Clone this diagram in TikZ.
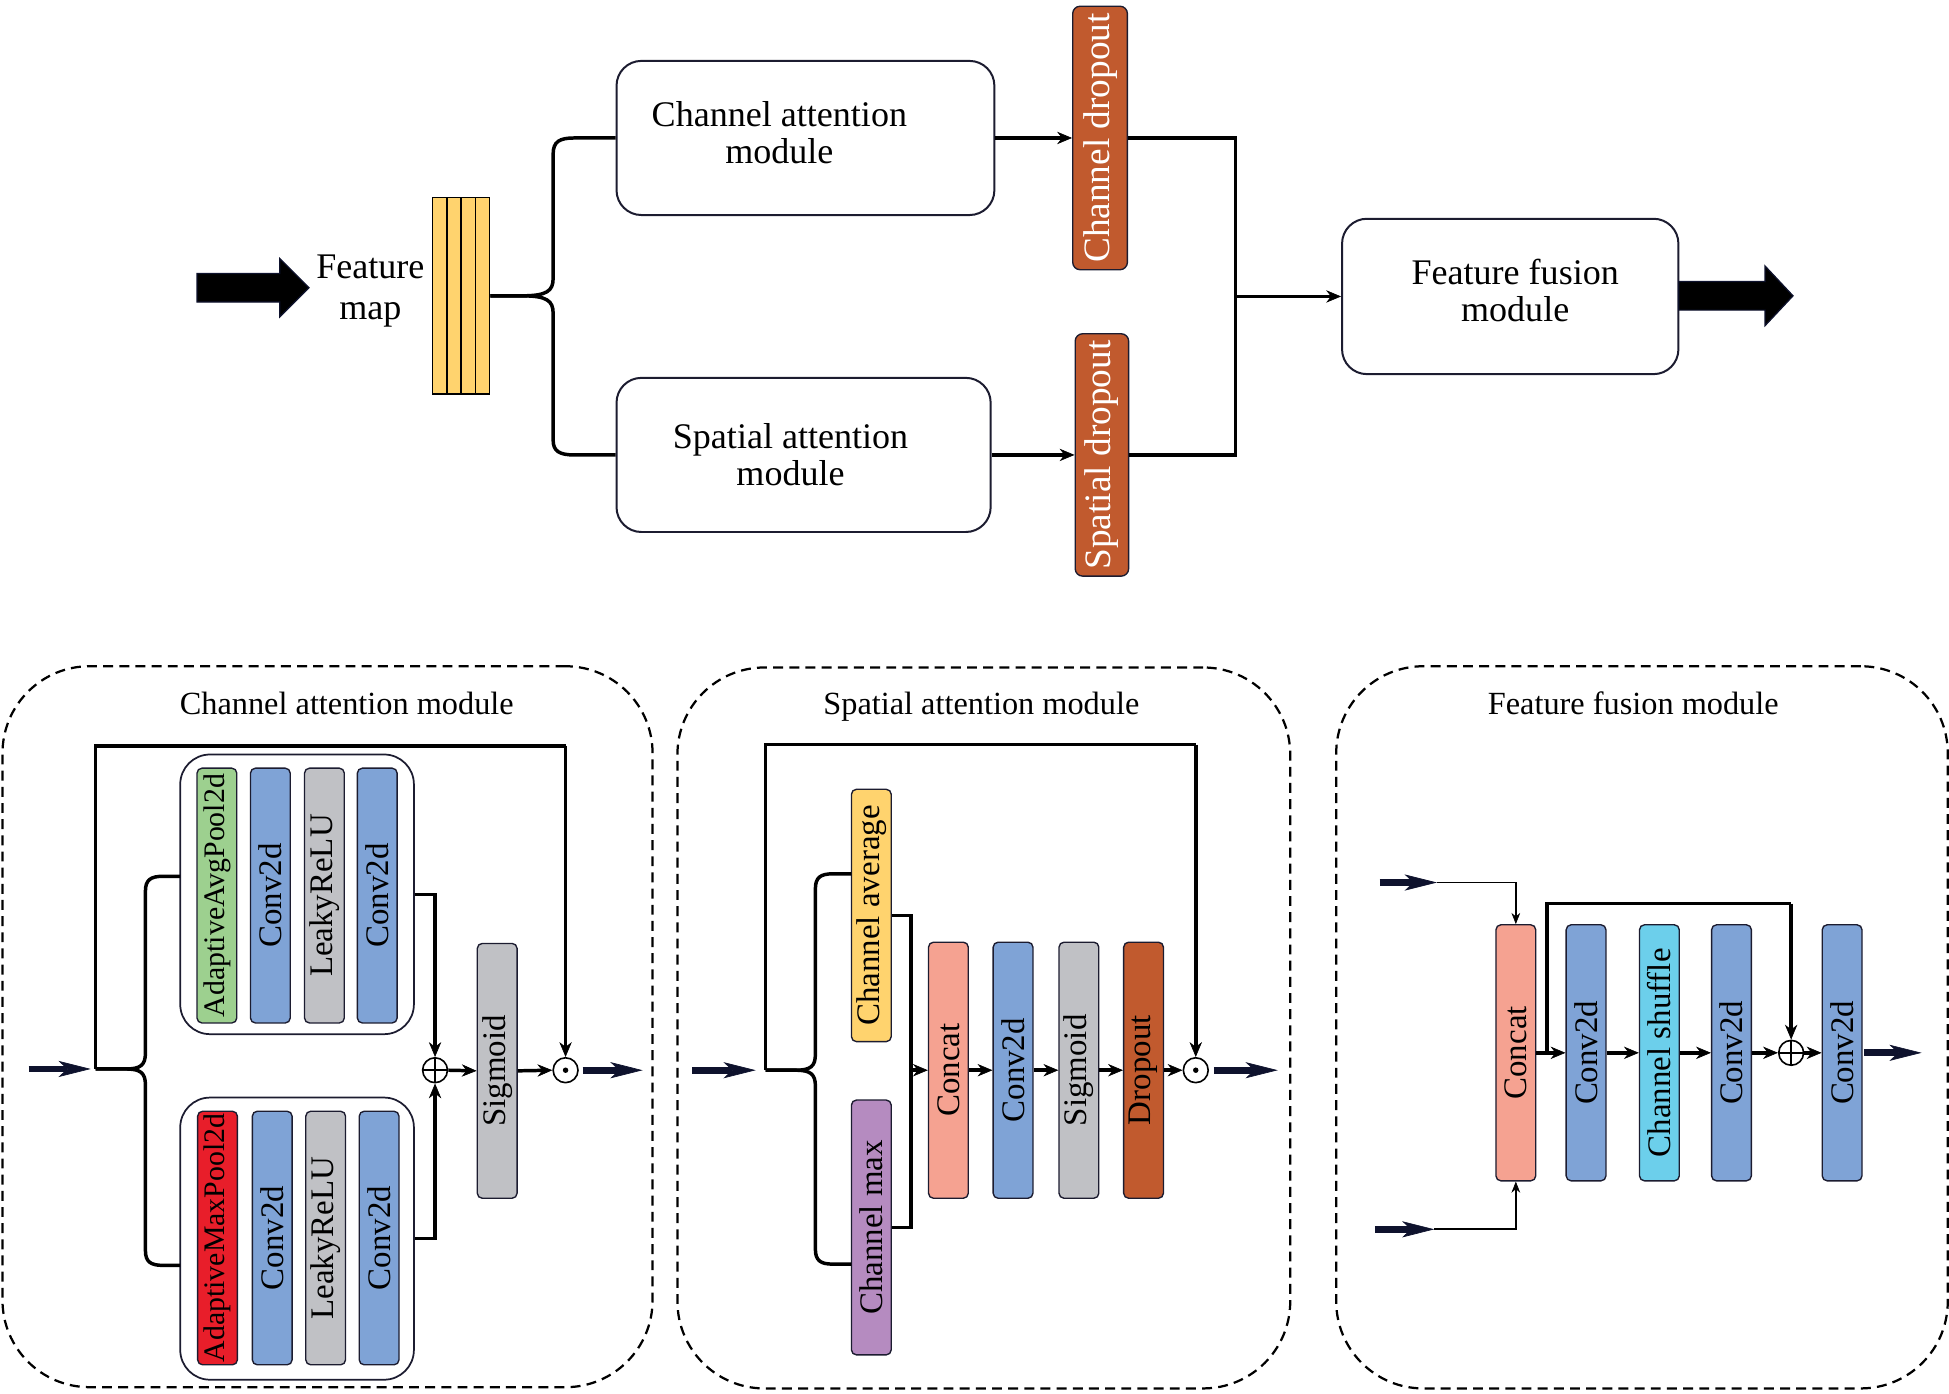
\documentclass[tikz,border=0pt]{standalone}
\usepackage{fontspec}
\setmainfont{Liberation Serif}
\usepackage{graphicx}
\usetikzlibrary{arrows.meta}
\definecolor{cyellow}{RGB}{255,211,110}
\definecolor{corange}{RGB}{193,90,46}
\definecolor{cgreen}{RGB}{157,208,143}
\definecolor{cblue}{RGB}{127,163,214}
\definecolor{cgray}{RGB}{192,193,197}
\definecolor{cred}{RGB}{232,30,42}
\definecolor{csalmon}{RGB}{245,162,145}
\definecolor{cpurple}{RGB}{181,139,192}
\definecolor{ccyan}{RGB}{108,207,235}
\definecolor{cborder}{RGB}{28,28,48}
\definecolor{cnavy}{RGB}{14,18,45}
\newcommand\fTop{\fontsize{29}{30}\selectfont}
\newcommand\fDrop{\fontsize{30}{30}\selectfont}
\newcommand\fTitle{\fontsize{26}{30}\selectfont}
\newcommand\fLab{\fontsize{26.5}{30}\selectfont}
\newcommand\fPool{\fontsize{24}{30}\selectfont}
\newcommand\vtext[1]{\rotatebox{90}{#1}}
\begin{document}
\begin{tikzpicture}[x=1pt,y=-1pt,
  conn/.style={line width=2.8pt, draw=black},
  tip/.style={-{Stealth[length=12pt,width=10pt,line width=0.5pt]}},
  stip/.style={-{Stealth[length=9pt,width=7pt,line width=0.5pt]}},
  thinl/.style={line width=1.5pt, draw=black},
  fat/.style={line width=5.5pt, draw=cnavy, -{Stealth[length=26pt,width=13pt,inset=7pt,line width=0.5pt]}},
  layer/.style={draw=cborder, line width=1.1pt, rounded corners=4pt, minimum width=32pt, inner sep=0pt, font=\fLab},
  panel/.style={draw=black, dash pattern=on 8pt off 5pt, line width=1.8pt, rounded corners=70pt, inner sep=0pt},
  module/.style={draw=cborder, line width=1.6pt, rounded corners=20pt, fill=white, inner sep=0pt},
  group/.style={draw=cborder, line width=1.4pt, rounded corners=24pt, fill=white, inner sep=0pt},
  ocirc/.style={circle, draw=black, line width=1.3pt, minimum size=20pt, inner sep=0pt, fill=white},
  bar/.style={draw=black, line width=1.2pt, fill=cyellow, minimum width=11.5pt, minimum height=158pt, inner sep=0pt},
  bigarrow/.style={fill=black, draw=cnavy, line width=1pt}
]
\useasboundingbox (0,0) rectangle (1568,1121);

% ================= TOP =================
\draw[bigarrow] (158.5,220) -- (225,220) -- (225,208) -- (248.6,231.5) -- (225,255) -- (225,243) -- (158.5,243) -- cycle;
\node[font=\fontsize{29}{33}\selectfont, align=center, inner sep=0pt] (fmt) at (298,234.5) {Feature\\map};
\foreach \i in {0,...,3} {
  \node[bar] (bar\i) at (353.75+11.5*\i,238) {};
}
\node[module, minimum width=304pt, minimum height=124pt] (cab) at (648,111) {};
\node[font=\fTop, align=center, inner sep=0pt] (cabt) at (627,107) {Channel attention\\module};
\node[module, minimum width=301pt, minimum height=124pt] (sab) at (646.5,366) {};
\node[font=\fTop, align=center, inner sep=0pt] (sabt) at (636,365.5) {Spatial attention\\module};
\node[layer, fill=corange, minimum width=44pt, minimum height=212pt, rounded corners=6pt, text=white, font=\fDrop] (cdrop) at (885,111) {\vtext{Channel dropout}};
\node[layer, fill=corange, minimum width=43pt, minimum height=195pt, rounded corners=6pt, text=white, font=\fDrop] (sdrop) at (886.5,366) {\vtext{Spatial dropout}};
\node[module, minimum width=270.6pt, minimum height=125pt] (ff) at (1215,238.5) {};
\node[font=\fTop, align=center, inner sep=0pt] (fft) at (1219,233.5) {Feature fusion\\module};
\draw[bigarrow] (1350.6,226.5) -- (1420,226.5) -- (1420,214) -- (1442.5,238) -- (1420,262) -- (1420,249.5) -- (1350.6,249.5) -- cycle;

\coordinate (br0) at (420,238);
\draw[conn] (bar3.east) -- (br0) .. controls (440,238) and (445,234) .. (445,224) -- (445,124) .. controls (445,114) and (450,111) .. (462,111) -- (cab.west);
\draw[conn] (bar3.east) -- (br0) .. controls (440,238) and (445,242) .. (445,252) -- (445,354) .. controls (445,363) and (450,366) .. (462,366) -- (sab.west);
\draw[conn,tip] (cab.east) -- (cab.east -| cdrop.west);
\draw[conn,tip] (sab.east) -- (sab.east -| sdrop.west);
\coordinate (r1) at (994,238.5);
\draw[conn] (cdrop.east) -- (cdrop.east -| r1) -- (sdrop.east -| r1) -- (sdrop.east);
\draw[conn,tip] (r1) -- (r1 -| ff.west);

% ================= PANEL 1 =================
\node[panel, minimum width=523pt, minimum height=580pt] (p1) at (263.5,826) {};
\node[font=\fTitle, inner sep=0pt, anchor=base] (t1) at (279,575) {Channel attention module};
\node[group, minimum width=188pt, minimum height=225pt] (g1) at (239,719.5) {};
\node[group, minimum width=188pt, minimum height=227pt] (g2) at (239,996.5) {};
\node[layer, fill=cgreen, minimum height=205pt, font=\fPool] (a1) at (174.5,720.5) {\vtext{AdaptiveAvgPool2d}};
\node[layer, fill=cblue, minimum height=205pt] (a2) at (217.5,720.5) {\vtext{Conv2d}};
\node[layer, fill=cgray, minimum height=205pt] (a3) at (261,720.5) {\vtext{LeakyReLU}};
\node[layer, fill=cblue, minimum height=205pt] (a4) at (303.5,720.5) {\vtext{Conv2d}};
\node[layer, fill=cred, minimum height=204pt, font=\fPool] (b1) at (175,996) {\vtext{AdaptiveMaxPool2d}};
\node[layer, fill=cblue, minimum height=204pt] (b2) at (219,996) {\vtext{Conv2d}};
\node[layer, fill=cgray, minimum height=204pt] (b3) at (262,996) {\vtext{LeakyReLU}};
\node[layer, fill=cblue, minimum height=204pt] (b4) at (305,996) {\vtext{Conv2d}};
\node[layer, fill=cgray, minimum height=205pt] (sig1) at (400,861.5) {\vtext{Sigmoid}};
\node[ocirc] (op1) at (350,861) {};
\draw[line width=1.2pt] (op1.north) -- (op1.south) (op1.west) -- (op1.east);
\node[ocirc] (od1) at (455,861) {};
\fill (od1.center) circle (2.2pt);

\coordinate (in1a) at (23,860);
\coordinate (sp1) at (77,860);
\coordinate (k1) at (455,600);
\coordinate (o1b) at (517,861);
\coordinate (g1in) at (145,705);
\coordinate (g2in) at (145,1018);
\draw[fat] (in1a) -- ([xshift=-4pt]sp1);
\draw[conn] (sp1) |- (k1);
\draw[conn,tip] (k1) -- (od1.north);
\draw[conn] (sp1) -- (101,860) .. controls (113,860) and (117,857) .. (117,847) -- (117,717) .. controls (117,708) and (121,705) .. (131,705) -- (g1in);
\draw[conn] (sp1) -- (101,860) .. controls (113,860) and (117,863) .. (117,873) -- (117,1006) .. controls (117,1015) and (121,1018) .. (131,1018) -- (g2in);
\draw[conn,tip] (g1.east) -| (op1.north);
\draw[conn,tip] (g2.east) -| (op1.south);
\draw[conn,tip] (op1.east) -- (sig1.west);
\draw[conn,tip] (sig1.east) -- (od1.west);
\draw[fat] ([xshift=3pt]od1.east) -- (o1b);

% ================= PANEL 2 =================
\node[panel, minimum width=493pt, minimum height=580pt] (p2) at (791.5,827) {};
\node[font=\fTitle, inner sep=0pt, anchor=base] (t2) at (789.5,575) {Spatial attention module};
\node[layer, fill=cyellow, minimum height=203pt] (ca) at (701,736.5) {\vtext{Channel average}};
\node[layer, fill=cpurple, minimum height=205pt] (cm) at (701,987.5) {\vtext{Channel max}};
\node[layer, fill=csalmon, minimum height=206pt] (cc2) at (763,861) {\vtext{Concat}};
\node[layer, fill=cblue, minimum height=206pt] (cv2) at (815,861) {\vtext{Conv2d}};
\node[layer, fill=cgray, minimum height=206pt] (sg2) at (868,861) {\vtext{Sigmoid}};
\node[layer, fill=corange, minimum height=206pt] (dp2) at (920,861) {\vtext{Dropout}};
\node[ocirc] (od2) at (962,861) {};
\fill (od2.center) circle (2.2pt);

\coordinate (in2a) at (557,861);
\coordinate (sp2) at (616,861);
\coordinate (k2) at (962,599);
\coordinate (j2) at (733,861);
\coordinate (o2b) at (1028,861);
\coordinate (cain) at (685,703);
\coordinate (cmin) at (685,1017);
\draw[fat] (in2a) -- ([xshift=-8pt]sp2);
\draw[conn] (sp2) |- (k2);
\draw[conn,tip] (k2) -- (od2.north);
\draw[conn] (sp2) -- (640,861) .. controls (652,861) and (656,858) .. (656,848) -- (656,715) .. controls (656,706) and (660,703) .. (670,703) -- (cain);
\draw[conn] (sp2) -- (640,861) .. controls (652,861) and (656,864) .. (656,874) -- (656,1005) .. controls (656,1014) and (660,1017) .. (670,1017) -- (cmin);
\draw[conn] (ca.east) -- (j2 |- ca.east) -- (j2 |- cm.east) -- (cm.east);
\draw[conn,tip] (j2) -- (cc2.west);
\draw[conn,tip] (cc2.east) -- (cv2.west);
\draw[conn,tip] (cv2.east) -- (sg2.west);
\draw[conn,tip] (sg2.east) -- (dp2.west);
\draw[conn,tip] (dp2.east) -- (od2.west);
\draw[fat] ([xshift=4pt]od2.east) -- (o2b);

% ================= PANEL 3 =================
\node[panel, minimum width=492pt, minimum height=581pt] (p3) at (1321,826.5) {};
\node[font=\fTitle, inner sep=0pt, anchor=base] (t3) at (1314,575) {Feature fusion module};
\node[layer, fill=csalmon, minimum height=206pt] (cc3) at (1219.5,847) {\vtext{Concat}};
\node[layer, fill=cblue, minimum height=206pt] (cv3a) at (1276,847) {\vtext{Conv2d}};
\node[layer, fill=ccyan, minimum height=206pt] (cs3) at (1335,847) {\vtext{Channel shuffle}};
\node[layer, fill=cblue, minimum height=206pt] (cv3b) at (1393,847) {\vtext{Conv2d}};
\node[ocirc] (op3) at (1441,847) {};
\draw[line width=1.2pt] (op3.north) -- (op3.south) (op3.west) -- (op3.east);
\node[layer, fill=cblue, minimum height=206pt] (cv3c) at (1482,847) {\vtext{Conv2d}};

\coordinate (i3a) at (1110,710);
\coordinate (i3b) at (1156,710);
\coordinate (i3c) at (1106,989);
\coordinate (i3d) at (1154,989);
\coordinate (j3) at (1244.5,847);
\coordinate (k3) at (1441,727);
\coordinate (o3b) at (1546,847);
\draw[fat] (i3a) -- (i3b);
\draw[thinl,stip] (i3b) -| (cc3.north);
\draw[fat] (i3c) -- (i3d);
\draw[thinl,stip] (i3d) -| (cc3.south);
\draw[conn,tip] (cc3.east) -- (cv3a.west);
\draw[conn] (j3) |- (k3);
\draw[conn,tip] (k3) -- (op3.north);
\draw[conn,tip] (cv3a.east) -- (cs3.west);
\draw[conn,tip] (cs3.east) -- (cv3b.west);
\draw[conn,tip] (cv3b.east) -- (op3.west);
\draw[conn,tip] (op3.east) -- (cv3c.west);
\draw[fat] ([xshift=1pt]cv3c.east) -- (o3b);
\end{tikzpicture}
\end{document}
